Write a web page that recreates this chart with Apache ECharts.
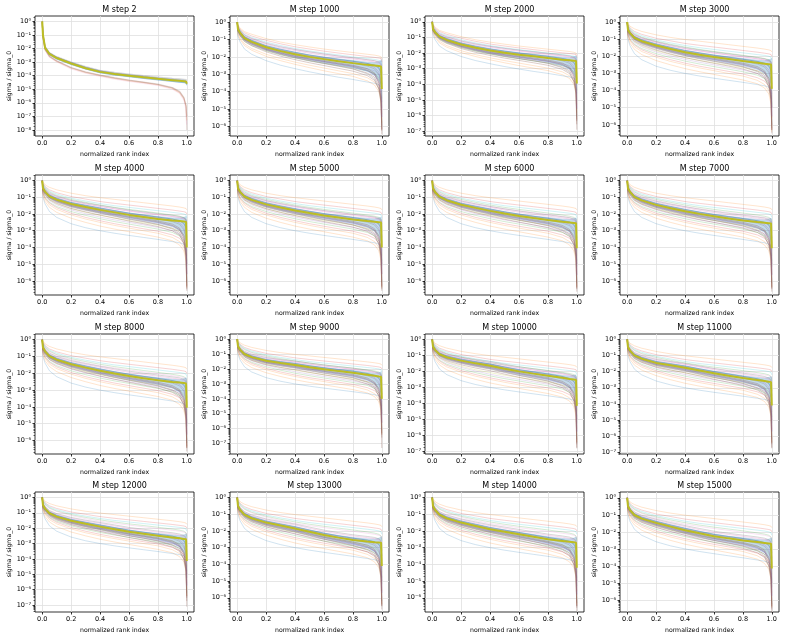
<!DOCTYPE html>
<html>
<head>
<meta charset="utf-8">
<script src="https://cdn.jsdelivr.net/npm/echarts@6/dist/echarts.min.js"></script>
<style>
html, body { margin: 0; padding: 0; background: #fff; }
#chart { width: 791px; height: 638px; }
</style>
</head>
<body>
<div id="chart"></div>
<script>
// singular value spectra, y values are log10(sigma / sigma_0)
var steps = [2, 1000, 2000, 3000, 4000, 5000, 6000, 7000, 8000, 9000, 10000, 11000, 12000, 13000, 14000, 15000];
var xs = [0, 0.005, 0.02, 0.05, 0.1, 0.2, 0.3, 0.4, 0.5, 0.6, 0.7, 0.8, 0.9, 0.95, 0.98, 0.995, 1.0];
var xTicks = [0, 0.2, 0.4, 0.6, 0.8, 1.0];

// y range per panel (decades) and lowest labelled decade
var yMinExp = [-8.45, -6.55, -7.3, -6.65, -6.85, -6.85, -6.85, -6.85, -6.8, -7.7, -7.15, -7.1, -7.45, -6.85, -6.85, -6.7];
var yMaxExp = [0.4, 0.35, 0.37, 0.35, 0.34, 0.34, 0.34, 0.34, 0.34, 0.35, 0.33, 0.33, 0.35, 0.33, 0.33, 0.34];
var yTickLowest = [-8, -6, -7, -6, -6, -6, -6, -6, -6, -7, -7, -7, -7, -6, -6, -6];
var deepEnd = [-8.0, -6.2, -6.9, -6.3, -6.5, -6.5, -6.5, -6.5, -6.45, -7.3, -6.8, -6.75, -7.1, -6.5, -6.5, -6.35];

// median curve of each panel
var medians = [
  [0, -1.0, -1.95, -2.4, -2.7, -3.1, -3.45, -3.72, -3.88, -4.0, -4.12, -4.23, -4.33, -4.38, -4.41, -4.43, -4.6],
  [0, -0.4, -0.62, -0.92, -1.14, -1.45, -1.67, -1.85, -2.0, -2.13, -2.25, -2.36, -2.46, -2.5, -2.53, -2.55, -3.85],
  [0, -0.45, -0.66, -0.95, -1.16, -1.45, -1.66, -1.84, -1.98, -2.1, -2.21, -2.32, -2.42, -2.46, -2.49, -2.51, -3.95],
  [0, -0.45, -0.65, -0.92, -1.12, -1.37, -1.58, -1.77, -1.91, -2.04, -2.16, -2.28, -2.38, -2.43, -2.46, -2.48, -3.9],
  [0, -0.45, -0.66, -0.94, -1.14, -1.4, -1.58, -1.75, -1.9, -2.05, -2.17, -2.29, -2.38, -2.42, -2.45, -2.47, -4.0],
  [0, -0.45, -0.67, -0.95, -1.15, -1.42, -1.61, -1.79, -1.94, -2.08, -2.2, -2.32, -2.42, -2.46, -2.49, -2.51, -4.0],
  [0, -0.46, -0.68, -0.96, -1.17, -1.44, -1.63, -1.81, -1.97, -2.11, -2.24, -2.36, -2.46, -2.5, -2.53, -2.55, -4.05],
  [0, -0.46, -0.68, -0.97, -1.18, -1.45, -1.65, -1.83, -1.99, -2.13, -2.26, -2.38, -2.48, -2.52, -2.55, -2.57, -4.05],
  [0, -0.47, -0.69, -0.98, -1.19, -1.46, -1.66, -1.85, -2.01, -2.16, -2.29, -2.41, -2.51, -2.55, -2.58, -2.6, -4.05],
  [0, -0.47, -0.7, -0.99, -1.2, -1.45, -1.6, -1.73, -1.88, -2.02, -2.14, -2.25, -2.38, -2.45, -2.5, -2.52, -4.0],
  [0, -0.45, -0.66, -0.93, -1.12, -1.33, -1.5, -1.65, -1.83, -2.0, -2.14, -2.27, -2.4, -2.47, -2.51, -2.54, -4.15],
  [0, -0.48, -0.7, -0.99, -1.2, -1.46, -1.61, -1.76, -1.93, -2.1, -2.25, -2.4, -2.52, -2.58, -2.62, -2.65, -4.1],
  [0, -0.5, -0.73, -1.03, -1.25, -1.52, -1.72, -1.9, -2.07, -2.24, -2.37, -2.5, -2.6, -2.66, -2.7, -2.72, -4.13],
  [0, -0.5, -0.73, -1.02, -1.24, -1.5, -1.68, -1.86, -2.05, -2.24, -2.4, -2.54, -2.63, -2.67, -2.69, -2.7, -4.1],
  [0, -0.5, -0.73, -1.02, -1.24, -1.5, -1.7, -1.9, -2.05, -2.2, -2.35, -2.5, -2.6, -2.65, -2.68, -2.7, -4.2],
  [0, -0.49, -0.72, -1.01, -1.22, -1.47, -1.69, -1.9, -2.08, -2.25, -2.38, -2.5, -2.6, -2.65, -2.68, -2.7, -4.15]
];

// shaded band, offsets from the median (decades)
var bandUpA = [0, 0.05, 0.08, 0.1, 0.1, 0.1, 0.1, 0.1, 0.1, 0.1, 0.1, 0.1, 0.1, 0.1, 0.1, 0.1, 0.15];
var bandLowA = [0, -0.05, -0.08, -0.1, -0.1, -0.1, -0.1, -0.1, -0.1, -0.1, -0.1, -0.1, -0.12, -0.14, -0.15, -0.15, -0.15];
var bandUp = [0, 0.08, 0.1, 0.12, 0.12, 0.12, 0.13, 0.14, 0.14, 0.15, 0.16, 0.18, 0.18, 0.2, 0.28, 0.35, 1.8];
var bandLow = [0, -0.1, -0.12, -0.12, -0.13, -0.15, -0.17, -0.18, -0.2, -0.22, -0.24, -0.28, -0.4, -0.6, -0.9, -1.2, -0.05];

// panel "M step 2": individual curves
var linesA = [
  [0, -0.95, -1.85, -2.3, -2.6, -3.0, -3.33, -3.6, -3.76, -3.88, -4.0, -4.1, -4.2, -4.24, -4.27, -4.29, -4.35],
  [0, -1.05, -2.0, -2.45, -2.76, -3.17, -3.5, -3.78, -3.95, -4.08, -4.2, -4.31, -4.42, -4.47, -4.5, -4.52, -4.7],
  [0, -1.0, -1.9, -2.35, -2.65, -3.05, -3.4, -3.66, -3.83, -3.95, -4.07, -4.18, -4.28, -4.33, -4.37, -4.4, -4.5],
  [0, -1.1, -2.1, -2.6, -2.95, -3.45, -3.78, -4.0, -4.2, -4.38, -4.52, -4.68, -4.95, -5.25, -5.7, -6.3, -7.3],
  [0, -1.1, -2.05, -2.55, -2.9, -3.4, -3.72, -3.95, -4.15, -4.32, -4.47, -4.62, -4.88, -5.15, -5.6, -6.2, -8.0],
  [0, -1.12, -2.12, -2.62, -2.98, -3.5, -3.82, -4.05, -4.25, -4.42, -4.57, -4.72, -5.0, -5.3, -5.8, -6.5, -7.6],
  [0, -1.08, -2.08, -2.58, -2.92, -3.42, -3.75, -3.98, -4.18, -4.35, -4.5, -4.65, -4.9, -5.2, -5.65, -6.25, -7.0],
  [0, -0.98, -1.9, -2.35, -2.66, -3.07, -3.4, -3.67, -3.84, -3.97, -4.09, -4.2, -4.32, -4.38, -4.42, -4.45, -4.6]
];
var colorsA = ['#7f7f7f', '#1f77b4', '#9467bd', '#ff7f0e', '#8c564b', '#e377c2', '#8c564b', '#7f7f7f'];
var alphaA = [0.3, 0.3, 0.3, 0.18, 0.22, 0.15, 0.22, 0.3];

// dense core curves, offsets from the median (null end = panel deepEnd)
var coreOffsets = [
  [0, 0.05, 0.05, 0.07, 0.07, 0.07, 0.08, 0.09, 0.09, 0.09, 0.1, 0.11, 0.08, 0.01, -0.14, -0.42, 0.3],
  [0, 0, -0.03, -0.03, -0.03, -0.05, -0.05, -0.05, -0.07, -0.08, -0.1, -0.12, -0.22, -0.42, -0.84, -1.52, -2.3],
  [0, -0.05, -0.07, -0.08, -0.08, -0.11, -0.12, -0.13, -0.15, -0.16, -0.19, -0.22, -0.34, -0.52, -0.94, -1.72, -1.6],
  [0, 0.03, 0.03, 0.04, 0.04, 0.02, 0.02, 0.02, 0.01, 0.01, 0.01, 0, -0.07, -0.19, -0.49, -1.02, -1.1],
  [0, -0.05, -0.1, -0.1, -0.13, -0.15, -0.17, -0.18, -0.21, -0.24, -0.27, -0.32, -0.47, -0.67, -1.14, -1.92, null],
  [0, 0.07, 0.07, 0.09, 0.1, 0.1, 0.11, 0.12, 0.11, 0.11, 0.11, 0.11, 0.08, 0.03, -0.09, -0.32, 0.6],
  [0, -0.1, -0.13, -0.14, -0.16, -0.18, -0.2, -0.21, -0.24, -0.26, -0.29, -0.34, -0.52, -0.77, -1.34, -2.12, -2.1],
  [0, 0.1, 0.1, 0.14, 0.15, 0.17, 0.18, 0.21, 0.21, 0.22, 0.23, 0.24, 0.23, 0.21, 0.16, 0.08, 1.2],
  [0, -0.02, -0.05, -0.06, -0.07, -0.09, -0.1, -0.1, -0.12, -0.13, -0.15, -0.18, -0.3, -0.5, -1.0, -1.8, -2.6],
  [0, 0.02, 0.02, 0.03, 0.02, 0.03, 0.04, 0.05, 0.05, 0.05, 0.05, 0.05, 0, -0.1, -0.35, -0.9, -1.6],
  [0, 0.14, 0.15, 0.18, 0.2, 0.22, 0.24, 0.27, 0.28, 0.29, 0.3, 0.31, 0.3, 0.28, 0.22, 0.12, 0.9],
  [0, -0.14, -0.18, -0.2, -0.22, -0.26, -0.29, -0.31, -0.34, -0.37, -0.41, -0.46, -0.62, -0.85, -1.3, -2.0, -2.4]
];
var coreColors = ['#7f7f7f', '#8c564b', '#9467bd', '#7f7f7f', '#8c564b', '#1f77b4', '#7f7f7f', '#e377c2', '#8c564b', '#9467bd', '#7f7f7f', '#8c564b'];

// spread-out curves, steps 1000 and 2000
var outliersB = [
  [0, -0.15, -0.35, -0.55, -0.7, -0.95, -1.15, -1.3, -1.43, -1.55, -1.65, -1.75, -1.85, -1.9, -1.95, -2.0, -2.1],
  [0, -0.2, -0.42, -0.62, -0.8, -1.05, -1.25, -1.42, -1.55, -1.67, -1.78, -1.88, -1.98, -2.03, -2.07, -2.1, -2.3],
  [0, -0.25, -0.47, -0.7, -0.88, -1.15, -1.35, -1.52, -1.66, -1.78, -1.89, -2.0, -2.1, -2.15, -2.2, -2.25, -2.5],
  [0, -0.55, -0.8, -1.1, -1.35, -1.65, -1.88, -2.06, -2.22, -2.36, -2.5, -2.63, -2.8, -2.95, -3.2, -3.6, -4.4],
  [0, -0.65, -0.92, -1.25, -1.52, -1.85, -2.1, -2.3, -2.48, -2.64, -2.8, -2.96, -3.2, -3.45, -3.8, -4.3, -5.3],
  [0, -0.72, -1.0, -1.35, -1.62, -1.97, -2.22, -2.43, -2.62, -2.8, -2.96, -3.12, -3.38, -3.62, -4.0, -4.6, -5.8],
  [0, -0.8, -1.15, -1.55, -1.85, -2.22, -2.48, -2.68, -2.86, -3.02, -3.17, -3.3, -3.45, -3.52, -3.6, -3.75, -4.6],
  [0, -0.5, -0.75, -1.05, -1.28, -1.58, -1.8, -1.98, -2.13, -2.27, -2.4, -2.52, -2.68, -2.8, -3.0, -3.3, -4.0],
  [0, -0.3, -0.52, -0.75, -0.94, -1.2, -1.4, -1.57, -1.7, -1.83, -1.95, -2.06, -2.17, -2.22, -2.27, -2.32, -2.6]
];
var outlierColorsB = ['#ff7f0e', '#d62728', '#17becf', '#2ca02c', '#ff7f0e', '#ff7f0e', '#1f77b4', '#9467bd', '#e377c2'];

// spread-out curves, steps 3000 to 15000
var outliersC = [
  [0, -0.1, -0.25, -0.4, -0.55, -0.75, -0.9, -1.02, -1.12, -1.22, -1.32, -1.42, -1.52, -1.58, -1.63, -1.67, -1.75],
  [0, -0.15, -0.35, -0.55, -0.72, -0.95, -1.1, -1.25, -1.36, -1.46, -1.56, -1.66, -1.76, -1.82, -1.86, -1.9, -2.0],
  [0, -0.2, -0.4, -0.62, -0.8, -1.05, -1.22, -1.37, -1.5, -1.6, -1.7, -1.8, -1.9, -1.95, -2.0, -2.05, -2.2],
  [0, -0.25, -0.45, -0.68, -0.88, -1.12, -1.3, -1.46, -1.6, -1.72, -1.83, -1.94, -2.06, -2.13, -2.2, -2.3, -2.6],
  [0, -0.3, -0.5, -0.72, -0.92, -1.18, -1.38, -1.55, -1.68, -1.8, -1.91, -2.02, -2.14, -2.2, -2.26, -2.32, -2.5],
  [0, -0.6, -0.85, -1.15, -1.4, -1.68, -1.9, -2.08, -2.24, -2.38, -2.52, -2.66, -2.85, -3.0, -3.25, -3.6, -4.5],
  [0, -0.7, -1.0, -1.3, -1.55, -1.85, -2.08, -2.28, -2.45, -2.6, -2.75, -2.9, -3.1, -3.3, -3.6, -4.0, -4.8],
  [0, -0.8, -1.1, -1.45, -1.72, -2.05, -2.3, -2.5, -2.68, -2.84, -3.0, -3.15, -3.4, -3.65, -4.0, -4.5, -5.6],
  [0, -0.9, -1.25, -1.6, -1.9, -2.25, -2.5, -2.72, -2.9, -3.06, -3.22, -3.38, -3.6, -3.85, -4.2, -4.8, -6.4],
  [0, -1.0, -1.4, -1.85, -2.2, -2.58, -2.82, -3.0, -3.15, -3.28, -3.4, -3.52, -3.65, -3.72, -3.8, -3.95, -5.0],
  [0, -0.65, -0.9, -1.2, -1.45, -1.75, -1.98, -2.18, -2.35, -2.5, -2.65, -2.8, -3.0, -3.2, -3.5, -3.9, -4.2],
  [0, -0.75, -1.05, -1.35, -1.62, -1.95, -2.2, -2.4, -2.58, -2.73, -2.88, -3.03, -3.25, -3.45, -3.75, -4.2, -5.0]
];
var outlierColorsC = ['#ff7f0e', '#d62728', '#17becf', '#2ca02c', '#e377c2', '#bcbd22', '#2ca02c', '#ff7f0e', '#ff7f0e', '#1f77b4', '#9467bd', '#d62728'];

var FONT = 'DejaVu Sans';
var colLeft = [35, 230, 425, 620];
var rowTop = [16, 175, 334, 492];
var gridW = 159, gridH = 120;

var SUP = { '0': '\u2070', '1': '\u00b9', '2': '\u00b2', '3': '\u00b3', '4': '\u2074', '5': '\u2075', '6': '\u2076', '7': '\u2077', '8': '\u2078', '9': '\u2079', '-': '\u207b' };
function sup(v) {
  return String(Math.round(v)).split('').map(function (ch) { return SUP[ch] || ch; }).join('');
}
function hexA(hex, a) {
  var n = parseInt(hex.slice(1), 16);
  return 'rgba(' + (n >> 16) + ',' + ((n >> 8) & 255) + ',' + (n & 255) + ',' + a + ')';
}
function pts(vals) {
  return xs.map(function (x, k) { return [x, vals[k]]; });
}
function lineSeries(p, vals, color, width, z) {
  return {
    type: 'line', xAxisIndex: p, yAxisIndex: p, data: pts(vals),
    showSymbol: false, symbol: 'none', silent: true, z: z,
    lineStyle: { color: color, width: width }
  };
}
// filled polygon between the upper and lower edge of the band
function bandSeries(p, up, low) {
  var data = xs.map(function (x, k) { return [x, up[k], low[k]]; });
  return {
    type: 'custom', xAxisIndex: p, yAxisIndex: p, silent: true, z: 3, data: data,
    encode: { x: 0, y: [1, 2] },
    renderItem: function (params, api) {
      if (params.dataIndex !== 0) return;
      var top = data.map(function (d) { return api.coord([d[0], d[1]]); });
      var bot = data.map(function (d) { return api.coord([d[0], d[2]]); }).reverse();
      return {
        type: 'polygon', shape: { points: top.concat(bot) },
        style: { fill: 'rgba(31,119,180,0.27)', stroke: null }
      };
    }
  };
}

var grids = [], xAxes = [], yAxes = [], minorAxes = [], titles = [], series = [];

steps.forEach(function (step, p) {
  var r = Math.floor(p / 4), c = p % 4;
  grids.push({ left: colLeft[c], top: rowTop[r], width: gridW, height: gridH, show: true, borderColor: '#000', borderWidth: 0.8 });
  titles.push({
    text: 'M step ' + step, left: colLeft[c] + gridW / 2, top: rowTop[r] - 15, textAlign: 'center',
    textStyle: { fontFamily: FONT, fontSize: 8, fontWeight: 'normal', color: '#000' }
  });
  xAxes.push({
    type: 'value', gridIndex: p, position: 'bottom', min: -0.05, max: 1.05,
    name: 'normalized rank index', nameLocation: 'middle', nameGap: 15,
    nameTextStyle: { fontFamily: FONT, fontSize: 6.2, color: '#000' },
    axisLine: { show: false, onZero: false },
    axisTick: { customValues: xTicks, length: 2.5, lineStyle: { color: '#000', width: 0.8 } },
    axisLabel: { customValues: xTicks, formatter: function (v) { return v.toFixed(1); }, margin: 4, fontFamily: FONT, fontSize: 6.5, color: '#000' },
    splitLine: { show: true, lineStyle: { color: '#e0e0e0', width: 0.8 } }
  });
  var majors = [];
  for (var d = yTickLowest[p]; d <= 0; d++) majors.push(d);
  var minors = [];
  for (var e = yTickLowest[p] - 1; e <= 0; e++) {
    for (var m = 2; m <= 9; m++) {
      var v = e + Math.log10(m);
      if (v > yMinExp[p] && v < yMaxExp[p]) minors.push(v);
    }
  }
  yAxes.push({
    type: 'value', gridIndex: p, position: 'left', min: yMinExp[p], max: yMaxExp[p],
    name: 'sigma / sigma_0', nameLocation: 'middle', nameGap: 22,
    nameTextStyle: { fontFamily: FONT, fontSize: 6.2, color: '#000' },
    axisLine: { show: false, onZero: false },
    axisTick: { customValues: majors, length: 2.5, lineStyle: { color: '#000', width: 0.8 } },
    axisLabel: { customValues: majors, formatter: function (v) { return '10' + sup(v); }, margin: 4, fontFamily: FONT, fontSize: 6.5, color: '#000' },
    splitLine: { show: true, lineStyle: { color: '#e0e0e0', width: 0.8 } }
  });
  minorAxes.push({
    type: 'value', gridIndex: p, position: 'left', offset: 0, min: yMinExp[p], max: yMaxExp[p],
    axisLine: { show: false, onZero: false }, axisLabel: { show: false }, splitLine: { show: false },
    axisTick: { customValues: minors, length: 1.5, lineStyle: { color: '#000', width: 0.6 } }
  });

  var med = medians[p];
  var up, low;
  if (p === 0) {
    linesA.forEach(function (vals, i) {
      series.push(lineSeries(p, vals, hexA(colorsA[i], alphaA[i]), 1.2, 2));
    });
    up = med.map(function (v, k) { return v + bandUpA[k]; });
    low = med.map(function (v, k) { return v + bandLowA[k]; });
  } else {
    var outs = p < 3 ? outliersB : outliersC;
    var ocol = p < 3 ? outlierColorsB : outlierColorsC;
    outs.forEach(function (vals, i) {
      series.push(lineSeries(p, vals, hexA(ocol[i], 0.26), 0.8, 2));
    });
    up = med.map(function (v, k) { return v + bandUp[k]; });
    low = med.map(function (v, k) { return v + bandLow[k]; });
  }
  series.push(bandSeries(p, up, low));
  if (p > 0) {
    coreOffsets.forEach(function (offs, i) {
      var vals = med.map(function (v, k) { return offs[k] === null ? deepEnd[p] : v + offs[k]; });
      series.push(lineSeries(p, vals, hexA(coreColors[i], 0.38), 0.8, 4));
    });
  }
  series.push(lineSeries(p, med, '#bcbd22', 2, 6));
});

var chart = echarts.init(document.getElementById('chart'), null, { renderer: 'canvas' });
chart.setOption({
  animation: false,
  backgroundColor: '#fff',
  title: titles,
  grid: grids,
  xAxis: xAxes,
  yAxis: yAxes.concat(minorAxes),
  series: series
});
</script>
</body>
</html>
